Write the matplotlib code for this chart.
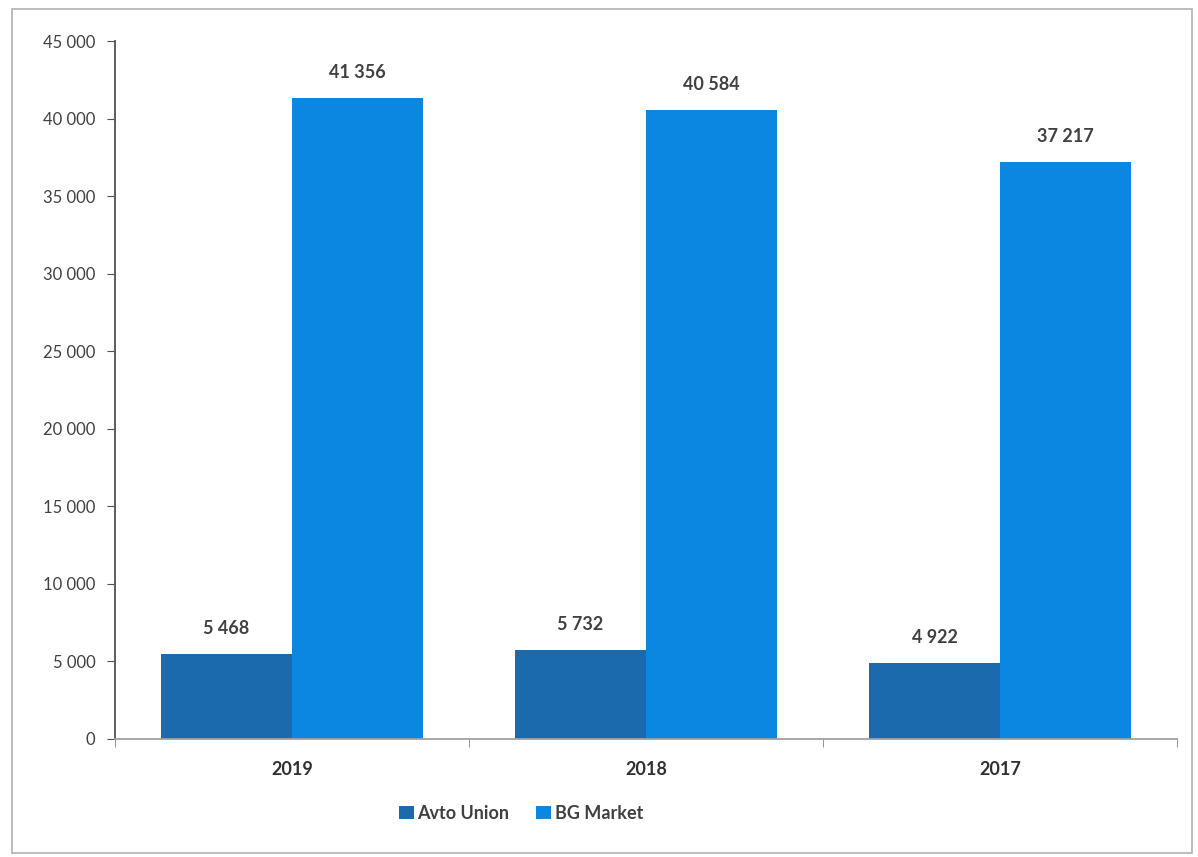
import numpy as np
import matplotlib
matplotlib.use("Agg")
import matplotlib.pyplot as plt
from matplotlib.patches import Rectangle
import matplotlib.ticker as ticker

plt.rcParams['font.family'] = ['Lato', 'DejaVu Sans']

years = ['2019', '2018', '2017']
avto_union = [5468, 5732, 4922]
bg_market = [41356, 40584, 37217]
series_names = ['Avto Union', 'BG Market']
colors = ['#1b6aad', '#0b87e2']


def fmt_space(v, pos=None):
    return f"{int(v):,}".replace(",", " ")


fig = plt.figure(figsize=(11.98, 8.57), dpi=100)
ax = fig.add_axes([0.096, 0.1377, 0.8865, 0.8143])

x = np.arange(len(years))
w = 0.37
b1 = ax.bar(x - w / 2, avto_union, w, color=colors[0], label=series_names[0])
b2 = ax.bar(x + w / 2, bg_market, w, color=colors[1], label=series_names[1])

for bars in (b1, b2):
    for rect in bars:
        h = rect.get_height()
        ax.text(rect.get_x() + rect.get_width() / 2, h + 1100, fmt_space(h),
                ha='center', va='bottom', fontsize=13, fontweight='bold', color='#404040')

ax.set_xlim(-0.5, len(years) - 0.5)
ax.set_ylim(0, 45000)
ax.yaxis.set_major_locator(ticker.MultipleLocator(5000))
ax.yaxis.set_major_formatter(ticker.FuncFormatter(fmt_space))

ax.set_xticks(x)
ax.set_xticklabels(years, fontsize=13, fontweight='bold', color='#303030')
ax.set_xticks(np.arange(len(years) + 1) - 0.5, minor=True)
ax.tick_params(axis='x', which='major', length=0, pad=16)
ax.tick_params(axis='x', which='minor', length=6, color='#808080')
ax.tick_params(axis='y', length=6, color='#505050', labelsize=12, labelcolor='#404040', pad=8)

for s in ['top', 'right']:
    ax.spines[s].set_visible(False)
ax.spines['left'].set_color('#505050')
ax.spines['bottom'].set_color('#a0a0a0')
ax.spines['left'].set_linewidth(1.3)
ax.spines['bottom'].set_linewidth(1.3)

leg = fig.legend(loc='center', bbox_to_anchor=(0.435, 0.051), ncol=2, frameon=False,
                 handlelength=0.8, handleheight=0.8, handletextpad=0.2, columnspacing=1.5,
                 prop={'size': 13, 'weight': 'bold'})
for t in leg.get_texts():
    t.set_color('#404040')

fig.patches.append(Rectangle((0.01, 0.005), 0.985, 0.985, transform=fig.transFigure,
                             fill=False, edgecolor='#b0b0b0', linewidth=1.2))

fig.savefig('out.png', dpi=100)
